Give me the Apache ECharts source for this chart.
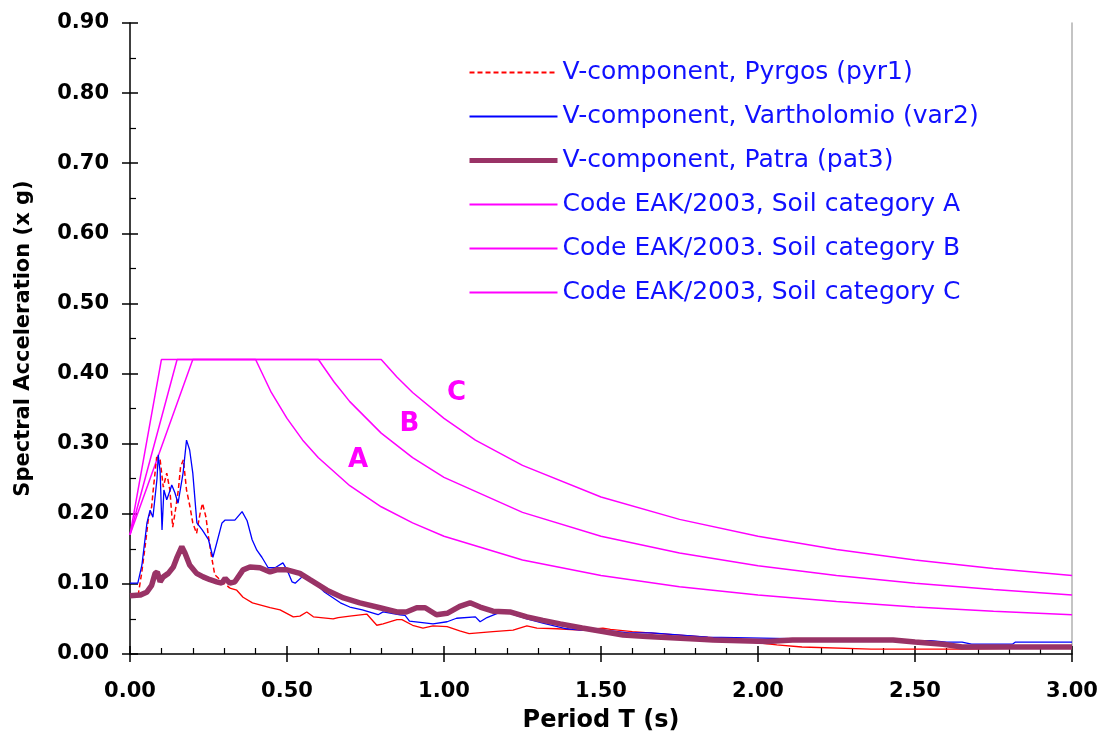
<!DOCTYPE html>
<html>
<head>
<meta charset="utf-8">
<script src="https://cdn.jsdelivr.net/npm/echarts@6/dist/echarts.min.js"></script>
<style>
  html, body { margin: 0; padding: 0; background: #fff; }
  #chart { width: 1102px; height: 740px; }
</style>
</head>
<body>
<div id="chart"></div>
<script>
// values: period T (s) and spectral acceleration (x g)
var pyrT  = [0, 0.026, 0.037, 0.048, 0.058, 0.069, 0.074, 0.085, 0.096, 0.106, 0.117, 0.127, 0.136, 0.143, 0.154, 0.161, 0.17, 0.18, 0.191, 0.2, 0.212, 0.223, 0.231, 0.242, 0.25, 0.26, 0.27, 0.287,
             0.318, 0.34, 0.36, 0.39, 0.446, 0.478, 0.52, 0.541, 0.563, 0.584, 0.647, 0.663, 0.70, 0.754, 0.786, 0.806, 0.85, 0.866, 0.90, 0.933, 0.965, 1.01, 1.05, 1.08, 1.156, 1.22, 1.264, 1.296, 1.36, 1.433, 1.506, 1.53, 1.6, 1.75, 1.9, 2.0, 2.06, 2.14, 2.36, 2.65, 2.8, 3.0];
var pyrSa = [0.084, 0.084, 0.115, 0.153, 0.191, 0.21, 0.234, 0.281, 0.277, 0.238, 0.258, 0.234, 0.181, 0.2, 0.234, 0.267, 0.277, 0.234, 0.21, 0.187, 0.172, 0.2, 0.215, 0.195, 0.167, 0.138, 0.113, 0.106,
             0.094, 0.091, 0.081, 0.073, 0.066, 0.063, 0.053, 0.054, 0.06, 0.053, 0.05, 0.052, 0.054, 0.057, 0.041, 0.043, 0.049, 0.049, 0.041, 0.037, 0.04, 0.039, 0.033, 0.029, 0.032, 0.034, 0.04, 0.037, 0.036, 0.034, 0.037, 0.035, 0.032, 0.027, 0.022, 0.016, 0.013, 0.01, 0.007, 0.007, 0.008, 0.008];
var pyrDashEnd = 28; // the early part of pyr1 is drawn dashed

var varT  = [0, 0.025, 0.038, 0.054, 0.064, 0.073, 0.086, 0.09, 0.096, 0.102, 0.108, 0.117, 0.128, 0.133, 0.143, 0.153, 0.169, 0.18, 0.19, 0.2, 0.213, 0.23, 0.25, 0.264, 0.276, 0.293, 0.303, 0.334, 0.357, 0.373, 0.389, 0.404, 0.42, 0.44, 0.462, 0.487, 0.5, 0.516, 0.526, 0.548, 0.58,
             0.62, 0.67, 0.70, 0.74, 0.79, 0.806, 0.86, 0.876, 0.89, 0.965, 1.01, 1.04, 1.10, 1.115, 1.137, 1.17, 1.21, 1.264, 1.315, 1.39, 1.44, 1.53, 1.59, 1.66, 1.84, 2.1, 2.5, 2.55, 2.6, 2.65, 2.68, 2.81, 2.82, 3.0];
var varSa = [0.101, 0.101, 0.127, 0.187, 0.205, 0.195, 0.25, 0.284, 0.26, 0.177, 0.234, 0.22, 0.234, 0.241, 0.23, 0.215, 0.258, 0.305, 0.291, 0.258, 0.187, 0.177, 0.163, 0.138, 0.158, 0.187, 0.191, 0.191, 0.203, 0.19, 0.163, 0.148, 0.138, 0.123, 0.123, 0.13, 0.12, 0.103, 0.101, 0.11, 0.105,
             0.088, 0.073, 0.067, 0.063, 0.056, 0.06, 0.056, 0.055, 0.047, 0.043, 0.046, 0.051, 0.053, 0.046, 0.052, 0.058, 0.058, 0.05, 0.044, 0.036, 0.034, 0.033, 0.03, 0.03, 0.024, 0.022, 0.019, 0.019, 0.017, 0.017, 0.014, 0.014, 0.017, 0.017];

var patT  = [0, 0.032, 0.053, 0.069, 0.08, 0.087, 0.096, 0.106, 0.122, 0.138, 0.149, 0.165, 0.175, 0.19, 0.212, 0.233, 0.255, 0.276, 0.292, 0.303, 0.318, 0.334, 0.36, 0.382, 0.414, 0.446, 0.467, 0.5, 0.541, 0.573,
             0.627, 0.68, 0.732, 0.796, 0.85, 0.88, 0.913, 0.94, 0.976, 1.01, 1.05, 1.083, 1.115, 1.156, 1.21, 1.264, 1.315, 1.37, 1.44, 1.506, 1.57, 1.646, 1.815, 1.857, 2.03, 2.11, 2.43, 2.5, 2.59, 2.65, 3.0];
var patSa = [0.083, 0.084, 0.088, 0.098, 0.115, 0.117, 0.103, 0.11, 0.115, 0.124, 0.137, 0.153, 0.144, 0.127, 0.115, 0.11, 0.106, 0.103, 0.101, 0.108, 0.101, 0.103, 0.12, 0.124, 0.123, 0.117, 0.12, 0.12, 0.115, 0.106,
             0.091, 0.08, 0.073, 0.066, 0.06, 0.06, 0.066, 0.066, 0.056, 0.058, 0.068, 0.073, 0.067, 0.061, 0.06, 0.053, 0.048, 0.043, 0.037, 0.032, 0.027, 0.025, 0.021, 0.02, 0.018, 0.02, 0.02, 0.017, 0.014, 0.01, 0.01];

// design spectra (EAK 2003)
var codeAT  = [0, 0.1, 0.4, 0.45, 0.5, 0.55, 0.6, 0.7, 0.8, 0.9, 1.0, 1.25, 1.5, 1.75, 2.0, 2.25, 2.5, 2.75, 3.0];
var codeASa = [0.17, 0.42, 0.42, 0.373, 0.336, 0.305, 0.28, 0.24, 0.21, 0.187, 0.168, 0.134, 0.112, 0.096, 0.084, 0.075, 0.067, 0.061, 0.056];
var codeBT  = [0, 0.15, 0.6, 0.65, 0.7, 0.8, 0.9, 1.0, 1.25, 1.5, 1.75, 2.0, 2.25, 2.5, 2.75, 3.0];
var codeBSa = [0.17, 0.42, 0.42, 0.388, 0.36, 0.315, 0.28, 0.252, 0.202, 0.168, 0.144, 0.126, 0.112, 0.101, 0.092, 0.084];
var codeCT  = [0, 0.2, 0.8, 0.85, 0.9, 1.0, 1.1, 1.25, 1.5, 1.75, 2.0, 2.25, 2.5, 2.75, 3.0];
var codeCSa = [0.17, 0.42, 0.42, 0.395, 0.373, 0.336, 0.305, 0.269, 0.224, 0.192, 0.168, 0.149, 0.134, 0.122, 0.112];

var soilLabels = ['A', 'B', 'C'];
var soilLabelPos = [[0.726, 0.277], [0.89, 0.327], [1.04, 0.372]];

var seriesNames = [
  'V-component, Pyrgos (pyr1)',
  'V-component, Vartholomio (var2)',
  'V-component, Patra (pat3)',
  'Code EAK/2003, Soil category A',
  'Code EAK/2003. Soil category B',
  'Code EAK/2003, Soil category C'
];

function pairs(t, v) {
  return t.map(function (x, i) { return [x, v[i]]; });
}

var FONT = "'DejaVu Sans', Verdana, sans-serif";
var MAGENTA = '#ff00ff';

function codeSeries(name, t, v) {
  return {
    name: name, type: 'line', symbol: 'none', z: 2,
    lineStyle: { color: MAGENTA, width: 1.5 },
    itemStyle: { color: MAGENTA },
    data: pairs(t, v)
  };
}

var pyrData = pairs(pyrT, pyrSa);

var chart = echarts.init(document.getElementById('chart'));
chart.setOption({
  backgroundColor: '#ffffff',
  animation: false,
  grid: { left: 130, right: 30, top: 23, bottom: 86, containLabel: false, outerBoundsMode: 'none' },
  legend: {
    orient: 'vertical',
    left: 462,
    top: 55,
    itemWidth: 88,
    itemHeight: 2,
    itemGap: 19,
    itemStyle: { opacity: 0 },
    data: seriesNames.map(function (n, i) {
      return i === 2 ? { name: n, lineStyle: { width: 5 } } : { name: n };
    }),
    textStyle: { color: '#1010ff', fontSize: 25, fontFamily: FONT }
  },
  xAxis: [{
    type: 'value', min: 0, max: 3, interval: 0.5, position: 'bottom',
    name: 'Period T (s)', nameLocation: 'middle', nameGap: 55,
    nameTextStyle: { fontSize: 24, fontWeight: 'bold', color: '#000', fontFamily: FONT },
    axisLine: { lineStyle: { color: '#000', width: 1.5 } },
    axisTick: { show: true, inside: false, length: 8, lineStyle: { color: '#000', width: 1.5 } },
    axisLabel: { margin: 27, fontSize: 21, fontWeight: 'bold', color: '#000', fontFamily: FONT,
      formatter: function (v) { return v.toFixed(2); } },
    splitLine: { show: false }
  }, {
    type: 'value', min: 0, max: 3, interval: 0.5, position: 'bottom',
    axisLine: { show: false },
    axisTick: { show: true, inside: true, length: 8, lineStyle: { color: '#000', width: 1.5 } },
    minorTick: { show: true, splitNumber: 5, length: 6, lineStyle: { color: '#000', width: 1.2 } },
    axisLabel: { show: false },
    splitLine: { show: false }
  }],
  yAxis: [{
    type: 'value', min: 0, max: 0.9, interval: 0.1, position: 'left',
    name: 'Spectral Acceleration (x g)', nameLocation: 'middle', nameGap: 96,
    nameTextStyle: { fontSize: 21, fontWeight: 'bold', color: '#000', fontFamily: FONT },
    axisLine: { show: true, lineStyle: { color: '#000', width: 1.5 } },
    axisTick: { show: true, inside: false, length: 8, lineStyle: { color: '#000', width: 1.5 } },
    axisLabel: { margin: 21, fontSize: 21, fontWeight: 'bold', color: '#000', fontFamily: FONT,
      formatter: function (v) { return v.toFixed(2); } },
    splitLine: { show: false }
  }, {
    type: 'value', min: 0, max: 0.9, interval: 0.1, position: 'left',
    axisLine: { show: false },
    axisTick: { show: true, inside: true, length: 8, lineStyle: { color: '#000', width: 1.5 } },
    minorTick: { show: true, splitNumber: 2, length: 6, lineStyle: { color: '#000', width: 1.2 } },
    axisLabel: { show: false },
    splitLine: { show: false }
  }, {
    type: 'value', min: 0, max: 0.9, position: 'right',
    axisLine: { show: true, lineStyle: { color: '#b0b0b0', width: 1.5 } },
    axisTick: { show: false }, axisLabel: { show: false }, splitLine: { show: false }
  }],
  series: [
    codeSeries(seriesNames[3], codeAT, codeASa),
    codeSeries(seriesNames[4], codeBT, codeBSa),
    Object.assign(codeSeries(seriesNames[5], codeCT, codeCSa), {
      markPoint: {
        symbol: 'circle', symbolSize: 0,
        label: { show: true, position: 'inside', color: MAGENTA, fontSize: 26, fontWeight: 'bold', fontFamily: FONT,
          formatter: function (p) { return p.name; } },
        data: soilLabels.map(function (s, i) { return { name: s, coord: soilLabelPos[i] }; })
      }
    }),
    {
      name: seriesNames[0], type: 'line', symbol: 'none', z: 3,
      lineStyle: { color: '#ff0000', width: 1.5, type: [5, 3] },
      itemStyle: { color: '#ff0000' },
      data: pyrData.slice(0, pyrDashEnd + 1)
    },
    {
      name: seriesNames[0], type: 'line', symbol: 'none', z: 3,
      lineStyle: { color: '#ff0000', width: 1.3 },
      itemStyle: { color: '#ff0000' },
      data: pyrData.slice(pyrDashEnd)
    },
    {
      name: seriesNames[1], type: 'line', symbol: 'none', z: 4,
      lineStyle: { color: '#0000ff', width: 1.3 },
      itemStyle: { color: '#0000ff' },
      data: pairs(varT, varSa)
    },
    {
      name: seriesNames[2], type: 'line', symbol: 'none', z: 5,
      lineStyle: { color: '#993366', width: 5.5 },
      itemStyle: { color: '#993366' },
      data: pairs(patT, patSa)
    }
  ]
});
</script>
</body>
</html>
